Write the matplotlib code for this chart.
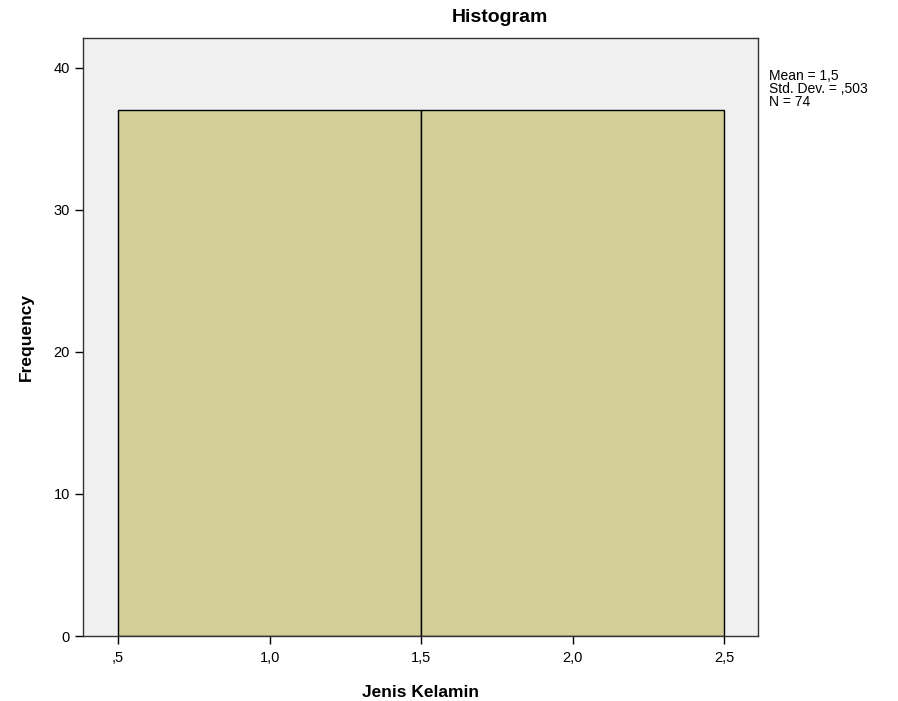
import matplotlib.pyplot as plt

# histogram bins (Jenis Kelamin) and frequencies
bin_edges = [0.5, 1.5, 2.5]
counts = [37, 37]
x_ticks = [0.5, 1.0, 1.5, 2.0, 2.5]
x_tick_labels = [",5", "1,0", "1,5", "2,0", "2,5"]
y_ticks = [0, 10, 20, 30, 40]
stats_text = "Mean = 1,5\nStd. Dev. = ,503\nN = 74"

plt.rcParams["font.family"] = ["Liberation Sans", "DejaVu Sans"]

fig = plt.figure(figsize=(8.98, 7.01), dpi=100)
ax = fig.add_axes([83 / 898, 65 / 701, 675 / 898, 598 / 701])
ax.set_facecolor("#f0f0f0")

widths = [b - a for a, b in zip(bin_edges[:-1], bin_edges[1:])]
ax.bar(bin_edges[:-1], counts, width=widths, align="edge",
       color="#d3ce98", edgecolor="black", linewidth=1.0, zorder=2)

ax.set_xlim(0.384, 2.612)
ax.set_ylim(0, 42.1)
ax.set_xticks(x_ticks)
ax.set_xticklabels(x_tick_labels)
ax.set_yticks(y_ticks)
ax.tick_params(axis="both", direction="out", length=6, width=1.0,
               labelsize=10.5, colors="black")
ax.tick_params(axis="x", pad=5)
for s in ax.spines.values():
    s.set_linewidth(1.0)
    s.set_color("#333333")

ax.set_xlabel("Jenis Kelamin", fontsize=12.5, fontweight="bold", labelpad=14)
ax.set_ylabel("Frequency", fontsize=12.5, fontweight="bold", labelpad=14)

fig.text(500 / 898, 1 - 18 / 701, "Histogram", ha="center", va="center",
         fontsize=14, fontweight="bold")
fig.text(769 / 898, 1 - 69 / 701, stats_text, ha="left", va="top",
         fontsize=10, linespacing=0.92)

fig.savefig("out.png", dpi=100)
